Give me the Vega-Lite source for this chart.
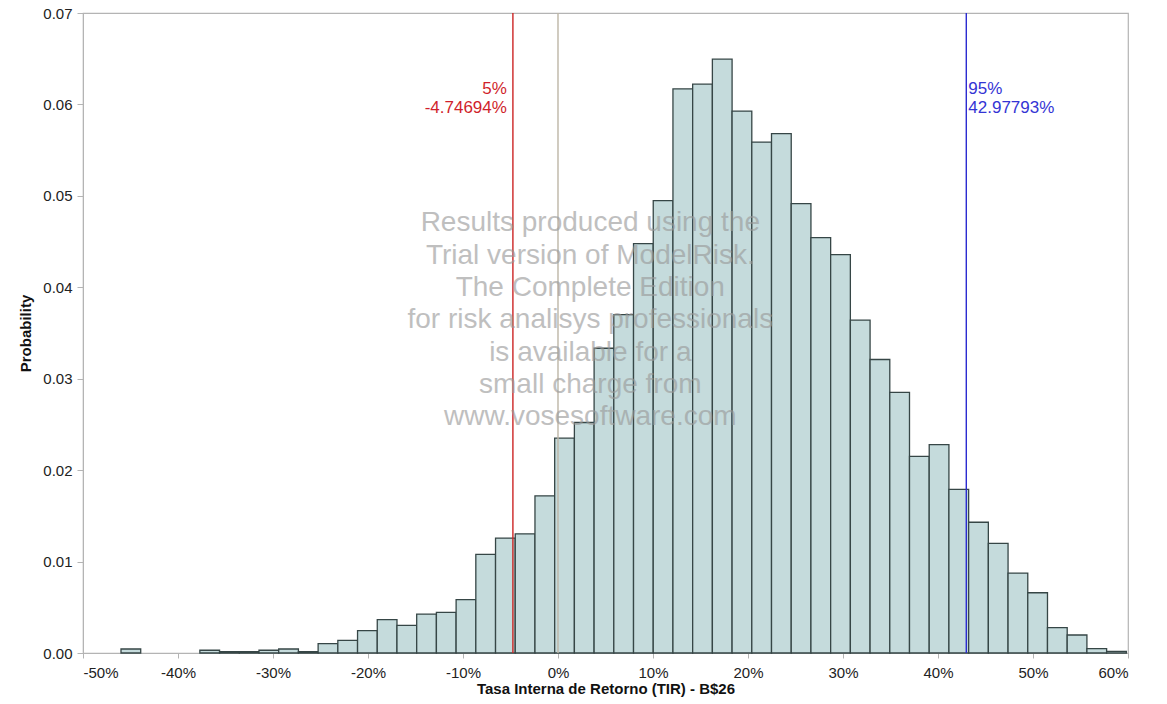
{
  "$schema": "https://vega.github.io/schema/vega-lite/v6.json",
  "autosize": "none",
  "width": 1045,
  "height": 640,
  "padding": {"left": 83, "top": 13, "right": 39, "bottom": 51},
  "background": "white",
  "config": {
    "font": "Liberation Sans",
    "view": {"stroke": "#b4b4b4", "strokeWidth": 1.2},
    "axis": {
      "domainColor": "#b4b4b4",
      "tickColor": "#b4b4b4",
      "labelColor": "#222222",
      "titleColor": "#111111",
      "labelFont": "Liberation Sans",
      "titleFont": "Liberation Sans",
      "labelFontSize": 15,
      "titleFontSize": 15,
      "titleFontWeight": "bold",
      "grid": false
    }
  },
  "datasets": {
    "bins": [
      {"lo": -46.0, "hi": -43.925, "p": 0.00044},
      {"lo": -37.7, "hi": -35.625, "p": 0.0003},
      {"lo": -35.625, "hi": -33.55, "p": 0.00015},
      {"lo": -33.55, "hi": -31.475, "p": 0.00015},
      {"lo": -31.475, "hi": -29.4, "p": 0.0003},
      {"lo": -29.4, "hi": -27.325, "p": 0.00044},
      {"lo": -27.325, "hi": -25.25, "p": 0.00015},
      {"lo": -25.25, "hi": -23.175, "p": 0.00102},
      {"lo": -23.175, "hi": -21.1, "p": 0.00139},
      {"lo": -21.1, "hi": -19.025, "p": 0.00244},
      {"lo": -19.025, "hi": -16.95, "p": 0.00364},
      {"lo": -16.95, "hi": -14.875, "p": 0.00302},
      {"lo": -14.875, "hi": -12.8, "p": 0.00426},
      {"lo": -12.8, "hi": -10.725, "p": 0.00445},
      {"lo": -10.725, "hi": -8.65, "p": 0.00583},
      {"lo": -8.65, "hi": -6.575, "p": 0.01079},
      {"lo": -6.575, "hi": -4.5, "p": 0.01257},
      {"lo": -4.5, "hi": -2.425, "p": 0.01304},
      {"lo": -2.425, "hi": -0.35, "p": 0.01719},
      {"lo": -0.35, "hi": 1.725, "p": 0.0235},
      {"lo": 1.725, "hi": 3.8, "p": 0.02521},
      {"lo": 3.8, "hi": 5.875, "p": 0.03333},
      {"lo": 5.875, "hi": 7.95, "p": 0.03701},
      {"lo": 7.95, "hi": 10.025, "p": 0.04477},
      {"lo": 10.025, "hi": 12.1, "p": 0.04947},
      {"lo": 12.1, "hi": 14.175, "p": 0.06171},
      {"lo": 14.175, "hi": 16.25, "p": 0.06222},
      {"lo": 16.25, "hi": 18.325, "p": 0.06495},
      {"lo": 18.325, "hi": 20.4, "p": 0.05927},
      {"lo": 20.4, "hi": 22.475, "p": 0.05588},
      {"lo": 22.475, "hi": 24.55, "p": 0.0568},
      {"lo": 24.55, "hi": 26.625, "p": 0.04915},
      {"lo": 26.625, "hi": 28.7, "p": 0.04543},
      {"lo": 28.7, "hi": 30.775, "p": 0.04357},
      {"lo": 30.775, "hi": 32.85, "p": 0.0364},
      {"lo": 32.85, "hi": 34.925, "p": 0.0321},
      {"lo": 34.925, "hi": 37.0, "p": 0.0285},
      {"lo": 37.0, "hi": 39.075, "p": 0.0215},
      {"lo": 39.075, "hi": 41.15, "p": 0.0228},
      {"lo": 41.15, "hi": 43.225, "p": 0.0179},
      {"lo": 43.225, "hi": 45.3, "p": 0.0143},
      {"lo": 45.3, "hi": 47.375, "p": 0.012},
      {"lo": 47.375, "hi": 49.45, "p": 0.00874},
      {"lo": 49.45, "hi": 51.525, "p": 0.00659},
      {"lo": 51.525, "hi": 53.6, "p": 0.00277},
      {"lo": 53.6, "hi": 55.675, "p": 0.00197},
      {"lo": 55.675, "hi": 57.75, "p": 0.00047},
      {"lo": 57.75, "hi": 59.825, "p": 0.00018}
    ],
    "rules": [
      {"pct": 0, "kind": "zero"},
      {"pct": -4.74694, "kind": "p5"},
      {"pct": 42.97793, "kind": "p95"}
    ],
    "lowLabel": [{"pct": -4.74694, "label": "5%\n-4.74694%"}],
    "highLabel": [{"pct": 42.97793, "label": "95%\n42.97793%"}],
    "watermark": [{"x": 3.4, "text": "Results produced using the\nTrial version of  ModelRisk.\nThe Complete Edition\nfor risk analisys professionals\nis available for a\nsmall charge from\nwww.vosesoftware.com"}]
  },
  "layer": [
    {
      "data": {"name": "bins"},
      "mark": {"type": "rect", "fill": "#c5dbdc", "stroke": "#364646", "strokeWidth": 1.3},
      "encoding": {
        "x": {
          "field": "lo", "type": "quantitative",
          "scale": {"domain": [-50, 60], "nice": false, "zero": false},
          "axis": {
            "values": [-50, -40, -30, -20, -10, 0, 10, 20, 30, 40, 50, 60],
            "labelExpr": "datum.value + '%'",
            "tickSize": 5,
            "labelPadding": 7,
            "titlePadding": 1,
            "title": "Tasa Interna de Retorno (TIR) - B$26"
          }
        },
        "x2": {"field": "hi"},
        "y": {
          "field": "p", "type": "quantitative",
          "scale": {"domain": [0, 0.07], "nice": false},
          "axis": {
            "values": [0, 0.01, 0.02, 0.03, 0.04, 0.05, 0.06, 0.07],
            "format": ".2f",
            "tickSize": 6,
            "labelPadding": 5,
            "titlePadding": 9,
            "title": "Probability"
          }
        },
        "y2": {"datum": 0}
      }
    },
    {
      "data": {"name": "rules"},
      "mark": {"type": "rule", "strokeWidth": 1.4},
      "encoding": {
        "x": {"field": "pct", "type": "quantitative"},
        "color": {
          "field": "kind", "type": "nominal",
          "scale": {"domain": ["zero", "p5", "p95"], "range": ["#bdb6a6", "#cc2424", "#2a2ad0"]},
          "legend": null
        }
      }
    },
    {
      "data": {"name": "lowLabel"},
      "mark": {"type": "text", "align": "right", "baseline": "middle", "dx": -6, "fontSize": 17, "lineBreak": "\n", "lineHeight": 19.5, "color": "#d01f2c", "font": "Liberation Sans"},
      "encoding": {
        "x": {"field": "pct", "type": "quantitative"},
        "y": {"datum": 0.06171},
        "text": {"field": "label"}
      }
    },
    {
      "data": {"name": "highLabel"},
      "mark": {"type": "text", "align": "left", "baseline": "middle", "dx": 2, "fontSize": 17, "lineBreak": "\n", "lineHeight": 19.5, "color": "#3434d4", "font": "Liberation Sans"},
      "encoding": {
        "x": {"field": "pct", "type": "quantitative"},
        "y": {"datum": 0.06171},
        "text": {"field": "label"}
      }
    },
    {
      "data": {"name": "watermark"},
      "mark": {"type": "text", "align": "center", "baseline": "middle", "fontSize": 28, "lineBreak": "\n", "lineHeight": 32.3, "color": "#999999", "opacity": 0.62, "font": "Liberation Sans"},
      "encoding": {
        "x": {"field": "x", "type": "quantitative"},
        "y": {"datum": 0.04699},
        "text": {"field": "text"}
      }
    }
  ]
}
